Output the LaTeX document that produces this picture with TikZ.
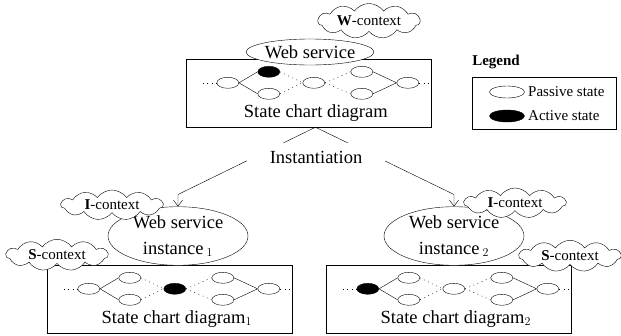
\documentclass[tikz,border=0pt]{standalone}
\usepackage{fontspec}
\setmainfont{Liberation Serif}
\usetikzlibrary{shapes.geometric,shapes.symbols,arrows.meta}

\tikzset{
  big/.style={font=\fontsize{18.5}{26}\selectfont},
  small/.style={font=\fontsize{15}{18}\selectfont},
  st/.style={ellipse,draw,minimum width=22pt,minimum height=11pt,inner sep=0pt},
  act/.style={st,fill=black},
  ctx/.style={cloud,cloud puffs=11,cloud puff arc=110,aspect=4,draw,fill=white,
    inner sep=0pt,minimum width=102pt,minimum height=26pt,small},
  chartbox/.style={draw,minimum width=245pt,minimum height=68pt},
  svc/.style={ellipse,draw,fill=white,inner sep=0pt,big,align=center},
  dots/.style={dash pattern=on 1pt off 3.5pt}
}

% #1 box, #2 left state, #3 upper state, #4 middle state, #5 label
\newcommand{\statechart}[5]{%
\begin{scope}[shift={(#1.north west)}]
\coordinate (#1a) at (17,24);
\coordinate (#1z) at (243,24);
\node[#2] (#1l) at (42,24) {};
\node[#3] (#1t) at (83,13) {};
\node[st] (#1b) at (83,35) {};
\node[#4] (#1m) at (128,24) {};
\node[st] (#1rt) at (176,13) {};
\node[st] (#1rb) at (176,35) {};
\node[st] (#1r) at (222,24) {};
\draw[dots] (#1a) -- (#1l.west);
\draw (#1l.east) -- (#1t.west) (#1l.east) -- (#1b.west);
\draw[dots] (#1t.east) -- (#1m.west) (#1b.east) -- (#1m.west);
\draw[dots] (#1m.east) -- (#1rt.west) (#1m.east) -- (#1rb.west);
\draw (#1rt.east) -- (#1r.west) (#1rb.east) -- (#1r.west);
\draw[dots] (#1r.east) -- (#1z);
\node[big] (#1txt) at (130,54) {#5};
\end{scope}}

\begin{document}
\begin{tikzpicture}[x=1pt,y=-1pt]
\useasboundingbox (0,0) rectangle (621,335);

% boxes with the state charts
\node[chartbox] (topbox) at (308.5,93) {};
\node[chartbox] (box1) at (169.5,299) {};
\node[chartbox] (box2) at (448.5,299) {};
\statechart{topbox}{st}{act}{st}{State chart diagram}
\statechart{box1}{st}{st}{act}{State chart diagram$_{1}$}
\statechart{box2}{act}{st}{st}{State chart diagram$_{2}$}

% services
\node[svc,minimum width=126pt,minimum height=26pt] (ws) at (310,52) {Web service};
\node[svc,minimum width=140pt,minimum height=54pt] (inst1) at (178,236) {Web service\\instance\,$_{1}$};
\node[svc,minimum width=140pt,minimum height=54pt] (inst2) at (454,236) {Web service\\instance\,$_{2}$};

% contexts
\node[ctx] (wctx) at (369,21) {\textbf{W}-context};
\node[ctx] (ictx1) at (112,205) {\textbf{I}-context};
\node[ctx] (sctx1) at (57,255) {\textbf{S}-context};
\node[ctx] (ictx2) at (515,203) {\textbf{I}-context};
\node[ctx] (sctx2) at (570,256) {\textbf{S}-context};

% instantiation
\coordinate (apex) at ([xshift=7pt]topbox.south);
\draw[-{Straight Barb[length=6pt,width=9pt]}] (apex) -- ([yshift=12pt]inst1.north) -- (inst1.north);
\draw[-{Straight Barb[length=6pt,width=9pt]}] (apex) -- ([yshift=12pt]inst2.north) -- (inst2.north);
\node[big,fill=white,minimum width=138pt,minimum height=29pt] (inst) at (316,157) {Instantiation};

% legend
\node[small,font=\fontsize{15}{18}\selectfont\bfseries] (legtitle) at (496,62) {Legend};
\node[draw,minimum width=144pt,minimum height=52pt] (legbox) at (544,103) {};
\node[st,minimum width=35pt,minimum height=12pt] (passive) at (507,92) {};
\node[act,minimum width=35pt,minimum height=12pt] (active) at (507,116) {};
\node[small,anchor=west,inner sep=0pt] (ptxt) at (528,92) {Passive state};
\node[small,anchor=west,inner sep=0pt] (atxt) at (528,116) {Active state};
\end{tikzpicture}
\end{document}
